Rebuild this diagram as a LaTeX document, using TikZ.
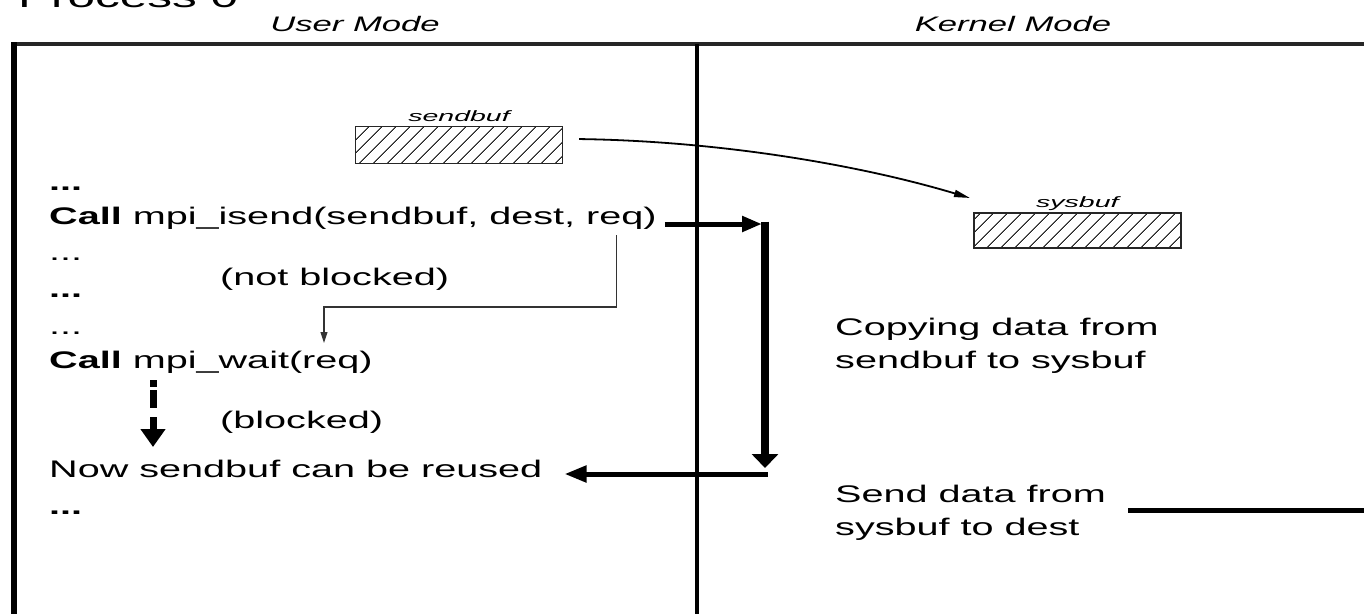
\documentclass[tikz,border=0pt]{standalone}
\usepackage{fontspec}
\setmainfont{Liberation Sans}
\usetikzlibrary{arrows.meta,patterns.meta}
\newcommand\hs[1]{\scalebox{1.65}[1]{#1}}
\newcommand\ls[1]{\scalebox{1.9}[1]{#1}}
\tikzset{
  txt/.style={anchor=base west, inner sep=0pt, font=\fontsize{24}{28}\selectfont},
  head/.style={anchor=base, inner sep=0pt, font=\fontsize{21}{24}\selectfont\itshape},
  lab/.style={anchor=base, inner sep=0pt, font=\fontsize{15}{18}\selectfont\itshape},
  hatchbox/.style={draw=black!85, line width=1.8pt, anchor=north west, inner sep=0pt,
    pattern={Lines[angle=45,distance=10.5pt,line width=1.1pt]}, pattern color=black!85},
  frame/.style={line width=6pt, black},
  harrow/.style={line width=5pt, -{Triangle[length=20pt,width=15pt]}},
  varrow/.style={line width=7.5pt, -{Triangle[length=14pt,width=26pt]}},
  larrow/.style={line width=5pt, -{Triangle[length=22pt,width=16pt]}},
  thinconn/.style={line width=1.1pt, black!80, -{Triangle[length=11pt,width=7pt]}},
  curvearrow/.style={line width=1.8pt, -{Triangle[length=16pt,width=7pt]}},
  dasharrow/.style={line width=7pt, dash pattern=on 7pt off 3pt on 18pt off 9pt on 13pt off 0pt,
    -{Triangle[length=18pt,width=24pt]}},
  plainline/.style={line width=5pt}
}
\begin{document}
\begin{tikzpicture}[x=1pt,y=-1pt]
\useasboundingbox (0,0) rectangle (1364,613);
% frame
\draw[line width=3.5pt, black!85] (14,44) -- (1375,44);
\draw[frame] (14,42) -- (14,625);
\draw[line width=4.5pt] (697,44) -- (697,625);
% titles
\node[txt, font=\fontsize{30}{34}\selectfont] (proc) at (18,8) {\hs{Process 0}};
\node[head] (user) at (355,31) {\hs{User Mode}};
\node[head] (kernel) at (1013,31) {\hs{Kernel Mode}};
% buffers
\node[hatchbox, minimum width=207pt, minimum height=37pt] (sendbuf) at (355,126) {};
\node[lab] (sendlab) at ([yshift=5pt]sendbuf.north) {\ls{sendbuf}};
\node[hatchbox, minimum width=207pt, minimum height=35pt] (sysbuf) at (973,212) {};
\node[lab] (syslab) at ([yshift=5pt]sysbuf.north) {\ls{sysbuf}};
\draw[curvearrow] ([shift={(16,-6)}]sendbuf.east) .. controls (720,141) and (860,165) .. ([shift={(-3,-14)}]sysbuf.north west);
% user code
\node[txt] (d1) at (49,190) {\hs{\bfseries ...}};
\node[txt] (isend) at (49,224) {\hs{\textbf{Call} mpi\_isend(sendbuf, dest, req)}};
\node[txt] (d2) at (49,260) {\hs{...}};
\node[txt] (nb) at (220,285) {\hs{(not blocked)}};
\node[txt] (d3) at (49,297) {\hs{\bfseries ...}};
\node[txt] (d4) at (49,334) {\hs{...}};
\node[txt] (wait) at (49,368) {\hs{\textbf{Call} mpi\_wait(req)}};
\node[txt] (bl) at (220,428) {\hs{(blocked)}};
\node[txt] (now) at (49,477) {\hs{Now sendbuf can be reused}};
\node[txt] (d5) at (49,514) {\hs{\bfseries ...}};
% kernel text
\node[txt] (copy1) at (835,335) {\hs{Copying data from}};
\node[txt] (copy2) at (835,368) {\hs{sendbuf to sysbuf}};
\node[txt] (send1) at (835,502) {\hs{Send data from}};
\node[txt] (send2) at (835,535) {\hs{sysbuf to dest}};
% connectors
\coordinate (k1) at (765,224);
\coordinate (k2) at (765,474);
\draw[harrow] ([xshift=8pt]isend.base east) -- ([xshift=-3pt]k1);
\draw[varrow] ([yshift=2.5pt]k1) -- ([yshift=6pt]k2);
\draw[larrow] ([xshift=2.5pt]k2) -- ([shift={(22,-3)}]now.base east);
\coordinate (wtip) at ([shift={(275,-25)}]wait.base west);
\draw[thinconn] ([shift={(-40,11)}]isend.base east) -- ++(0,72) -| (wtip);
\draw[dasharrow] ([shift={(104,12)}]wait.base west) -- ([shift={(104,-30)}]now.base west);
\draw[plainline] ([shift={(22,8)}]send1.base east) -- ++(260,0);
\end{tikzpicture}
\end{document}
